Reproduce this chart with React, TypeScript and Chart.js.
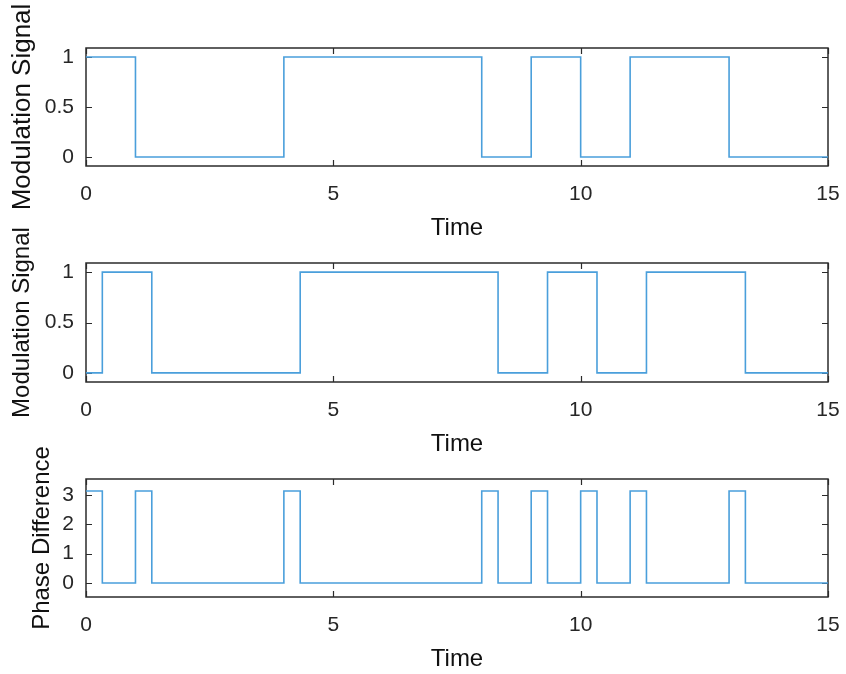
import React, { useEffect, useRef } from "react";
import { Chart, registerables } from "chart.js";

Chart.register(...registerables);

// ---------- data ----------
const X_TICKS = [0, 5, 10, 15];

const TIME_1 = [0, 1, 4, 8, 9, 10, 11, 13, 15];
const SIGNAL_1 = [1, 0, 1, 0, 1, 0, 1, 0, 0];

const TIME_2 = [0, 0.33, 1.33, 4.33, 8.33, 9.33, 10.33, 11.33, 13.33, 15];
const SIGNAL_2 = [0, 1, 0, 1, 0, 1, 0, 1, 0, 0];

const TIME_3 = [0, 0.33, 1, 1.33, 4, 4.33, 8, 8.33, 9, 9.33, 10, 10.33, 11, 11.33, 13, 13.33, 15];
const PHASE_DIFF = [3.1416, 0, 3.1416, 0, 3.1416, 0, 3.1416, 0, 3.1416, 0, 3.1416, 0, 3.1416, 0, 3.1416, 0, 0];

const SIGNAL_Y_TICKS = [0, 0.5, 1];
const PHASE_Y_TICKS = [0, 1, 2, 3];

const X_LABEL = "Time";
const Y_LABEL_1 = "Modulation Signal";
const Y_LABEL_2 = "Modulation Signal";
const Y_LABEL_3 = "Phase Difference";

// ---------- styles ----------
const FONT = "'Liberation Sans', Arial, Helvetica, sans-serif";
const LINE_COLOR = "#4a9fdb";
const AXIS_COLOR = "#2b2b2b";
const TEXT_COLOR = "#262626";

const boxPlugin = {
  id: "matlabBox",
  beforeDatasetsDraw(chart: any) {
    const { ctx, chartArea: a, scales } = chart;
    ctx.save();
    ctx.strokeStyle = AXIS_COLOR;
    ctx.lineWidth = 1.5;
    ctx.strokeRect(a.left, a.top, a.right - a.left, a.bottom - a.top);
    const L = 6;
    ctx.beginPath();
    scales.x.ticks.forEach((t: any) => {
      const px = Math.round(scales.x.getPixelForValue(t.value)) + 0.5;
      ctx.moveTo(px, a.bottom);
      ctx.lineTo(px, a.bottom - L);
      ctx.moveTo(px, a.top);
      ctx.lineTo(px, a.top + L);
    });
    scales.y.ticks.forEach((t: any) => {
      const py = Math.round(scales.y.getPixelForValue(t.value)) + 0.5;
      ctx.moveTo(a.left, py);
      ctx.lineTo(a.left + L, py);
      ctx.moveTo(a.right, py);
      ctx.lineTo(a.right - L, py);
    });
    ctx.lineWidth = 1.2;
    ctx.stroke();
    ctx.restore();
  },
};

type PanelProps = {
  top: number;
  height: number;
  padTop: number;
  padBottom: number;
  times: number[];
  values: number[];
  yMin: number;
  yMax: number;
  yTicks: number[];
  yLabel: string;
  yLabelSize: number;
  yTitlePad: number;
};

function Panel(p: PanelProps) {
  const ref = useRef<HTMLCanvasElement>(null);
  useEffect(() => {
    if (!ref.current) return;
    const data = p.times.map((t, i) => ({ x: t, y: p.values[i] }));
    const chart = new Chart(ref.current, {
      type: "line",
      data: {
        datasets: [
          {
            data,
            borderColor: LINE_COLOR,
            borderWidth: 1.6,
            pointRadius: 0,
            fill: false,
            stepped: "before",
          },
        ],
      },
      options: {
        animation: false,
        responsive: false,
        events: [],
        layout: { padding: { top: p.padTop, bottom: p.padBottom, left: 0, right: 18 } },
        plugins: { legend: { display: false }, tooltip: { enabled: false } },
        scales: {
          x: {
            type: "linear",
            min: 0,
            max: 15,
            grid: { display: false, drawTicks: false },
            border: { display: false },
            afterBuildTicks: (s: any) => {
              s.ticks = X_TICKS.map((v) => ({ value: v }));
            },
            afterFit: (s: any) => {
              s.height = 77;
              s.paddingLeft = 0;
              s.paddingRight = 0;
            },
            ticks: {
              padding: 16,
              color: TEXT_COLOR,
              font: { family: FONT, size: 21 },
              maxRotation: 0,
              callback: (v: any) => String(v),
            },
            title: {
              display: true,
              text: X_LABEL,
              color: "#111",
              font: { family: FONT, size: 24 },
              padding: { top: 0, bottom: 0 },
            },
          },
          y: {
            type: "linear",
            min: p.yMin,
            max: p.yMax,
            grid: { display: false, drawTicks: false },
            border: { display: false },
            afterBuildTicks: (s: any) => {
              s.ticks = p.yTicks.map((v) => ({ value: v }));
            },
            afterFit: (s: any) => {
              s.width = 86;
              s.paddingTop = 0;
              s.paddingBottom = 0;
            },
            ticks: {
              padding: 12,
              color: TEXT_COLOR,
              font: { family: FONT, size: 21 },
              callback: (v: any) => String(v),
            },
            title: {
              display: true,
              text: p.yLabel,
              color: "#111",
              font: { family: FONT, size: p.yLabelSize },
              padding: { top: p.yTitlePad, bottom: 0 },
            },
          },
        },
      },
      plugins: [boxPlugin],
    });
    return () => chart.destroy();
  }, []);
  return (
    <div style={{ position: "absolute", left: 0, top: p.top, width: 846, height: p.height }}>
      <canvas ref={ref} width={846} height={p.height} style={{ width: 846, height: p.height, display: "block" }} />
    </div>
  );
}

export default function App() {
  return (
    <div style={{ position: "absolute", left: 0, top: 0, width: 846, height: 674, background: "#fff" }}>
      <Panel top={0} height={245} padTop={48} padBottom={2} times={TIME_1} values={SIGNAL_1}
        yMin={-0.09} yMax={1.09} yTicks={SIGNAL_Y_TICKS} yLabel={Y_LABEL_1} yLabelSize={26} yTitlePad={7} />
      <Panel top={200} height={260} padTop={63} padBottom={1} times={TIME_2} values={SIGNAL_2}
        yMin={-0.09} yMax={1.09} yTicks={SIGNAL_Y_TICKS} yLabel={Y_LABEL_2} yLabelSize={24} yTitlePad={8} />
      <Panel top={430} height={244} padTop={49} padBottom={0} times={TIME_3} values={PHASE_DIFF}
        yMin={-0.48} yMax={3.55} yTicks={PHASE_Y_TICKS} yLabel={Y_LABEL_3} yLabelSize={24} yTitlePad={28} />
    </div>
  );
}
